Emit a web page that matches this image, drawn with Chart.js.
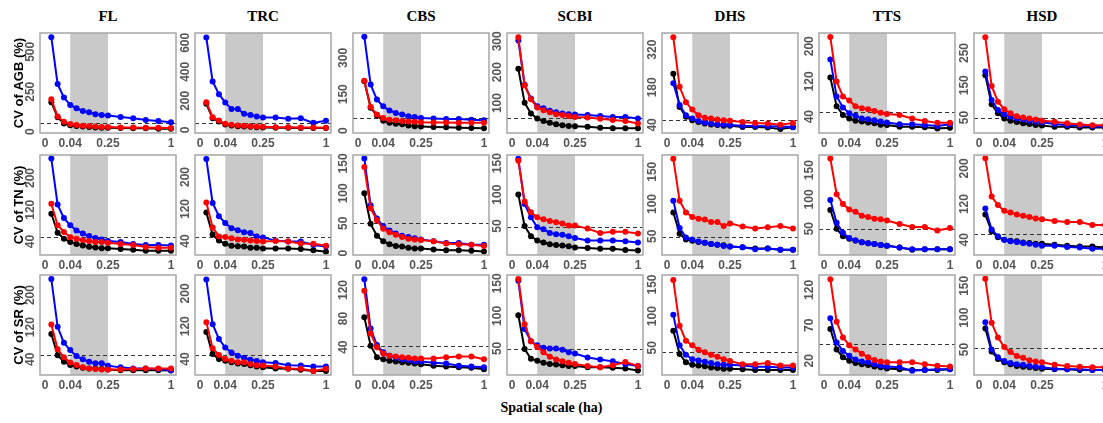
<!DOCTYPE html>
<html>
<head>
<meta charset="utf-8">
<script src="https://cdn.jsdelivr.net/npm/chart.js@4.4.1/dist/chart.umd.min.js"></script>
<style>
  html, body { margin: 0; padding: 0; background: #fff; overflow: hidden; }
  #wrap { position: relative; width: 1103px; height: 423px; overflow: hidden; }
  #wrap canvas { position: absolute; }
  .site { position: absolute; top: 8px; width: 136px; text-align: center;
          font: bold 15px "Liberation Serif", "Times New Roman", serif; color: #000; }
  #xlab { position: absolute; left: 0; width: 1103px; top: 400px; text-align: center;
          font: bold 14px "Liberation Serif", "Times New Roman", serif; color: #000; }
</style>
</head>
<body>
<div id="wrap"><div id="xlab">Spatial scale (ha)</div></div>
<script>
// plot sizes (ha); x axis is drawn on the square root of the area
const scaleHa = [0.0025, 0.01, 0.0225, 0.04, 0.0625, 0.09, 0.1225, 0.16, 0.2025, 0.25, 0.36, 0.49, 0.64, 0.81, 1];
const xTickHa = [0, 0.04, 0.25, 1];
const shadeHa = [0.04, 0.25];

const sites = ['FL', 'TRC', 'CBS', 'SCBI', 'DHS', 'TTS', 'HSD'];
const rowTitles = ['CV of AGB (%)', 'CV of TN (%)', 'CV of SR (%)'];

// CV of AGB
const agbBlack = [
  [185, 90, 52, 40, 36, 32, 29, 27, 25, 25, 23, 21, 21, 19, 19],
  [179, 80, 58, 37, 30, 25, 23, 21, 18, 16, 14, 14, 12, 12, 12],
  [204, 94, 62, 41, 32, 28, 26, 21, 18, 17, 15, 14, 12, 11, 10],
  [211, 101, 66, 50, 42, 36, 31, 28, 26, 25, 23, 20, 18, 18, 18],
  [230, 107, 70, 57, 51, 45, 42, 40, 37, 37, 32, 32, 30, 25, 31],
  [129, 64, 44, 36, 31, 29, 27, 25, 22, 21, 17, 17, 16, 13, 15],
  [181, 91, 63, 47, 40, 36, 32, 30, 27, 25, 21, 21, 19, 19, 19]
];
const agbBlue = [
  [592, 298, 214, 168, 147, 130, 122, 109, 105, 101, 92, 84, 74, 67, 59],
  [637, 333, 246, 189, 143, 143, 110, 103, 92, 85, 85, 76, 80, 48, 62],
  [388, 190, 128, 100, 83, 73, 66, 59, 56, 52, 50, 48, 48, 45, 43],
  [303, 159, 115, 90, 83, 75, 70, 66, 64, 63, 61, 58, 55, 55, 50],
  [195, 114, 76, 64, 55, 49, 45, 42, 41, 40, 37, 36, 35, 34, 32],
  [170, 86, 61, 48, 42, 36, 34, 32, 29, 27, 23, 23, 21, 19, 23],
  [193, 104, 73, 60, 52, 47, 44, 40, 37, 35, 30, 26, 25, 23, 21]
];
const agbRed = [
  [204, 95, 63, 48, 42, 38, 36, 32, 29, 29, 27, 27, 25, 25, 23],
  [191, 87, 64, 41, 35, 30, 28, 25, 23, 21, 18, 18, 16, 16, 14],
  [206, 98, 66, 52, 45, 43, 40, 37, 36, 34, 33, 33, 32, 32, 32],
  [313, 157, 112, 86, 77, 70, 64, 61, 58, 55, 53, 49, 45, 42, 34],
  [366, 182, 124, 97, 76, 67, 64, 60, 57, 56, 51, 47, 45, 41, 47],
  [221, 120, 86, 77, 64, 59, 57, 53, 49, 46, 44, 36, 30, 26, 26],
  [299, 148, 99, 76, 63, 54, 50, 47, 44, 40, 37, 32, 28, 26, 26]
];
const agbTicks = [[0, 250, 500], [0, 200, 400, 600], [0, 150, 300], [100, 200, 300], [40, 180, 320], [40, 120, 200], [50, 150, 250]];
const agbLim = [[-8, 618], [-22, 668], [-10, 403], [3, 327], [10, 382], [3, 230], [2, 312]];
const agbCut = [52, 48, 51, 50, 57, 51, 49];

// CV of TN
const tnBlack = [
  [110, 62, 47, 39, 34, 30, 27, 25, 23, 23, 21, 19, 17, 17, 17],
  [111, 56, 41, 33, 28, 27, 26, 23, 23, 21, 21, 21, 20, 17, 13],
  [100, 49, 29, 20, 15, 12, 11, 9, 8, 8, 6, 5, 5, 4, 3],
  [100, 50, 34, 27, 24, 21, 20, 19, 18, 16, 15, 14, 14, 12, 11],
  [87, 54, 45, 43, 41, 40, 38, 37, 36, 34, 33, 31, 31, 29, 29],
  [82, 50, 37, 33, 30, 27, 25, 24, 22, 21, 18, 14, 15, 15, 15],
  [97, 59, 46, 40, 38, 37, 34, 33, 31, 31, 29, 27, 25, 25, 23]
];
const tnBlue = [
  [249, 133, 99, 81, 68, 60, 54, 49, 45, 41, 39, 34, 31, 31, 30],
  [245, 135, 102, 85, 72, 67, 62, 60, 51, 49, 41, 39, 39, 30, 26],
  [158, 80, 58, 45, 38, 33, 29, 27, 25, 23, 20, 17, 17, 14, 14],
  [157, 85, 64, 48, 45, 39, 37, 36, 34, 31, 27, 27, 27, 26, 24],
  [105, 63, 48, 45, 42, 40, 38, 37, 35, 34, 33, 30, 31, 29, 29],
  [99, 60, 43, 34, 30, 27, 25, 24, 22, 21, 18, 15, 15, 15, 15],
  [110, 63, 48, 40, 37, 35, 33, 31, 29, 27, 27, 24, 23, 20, 20]
];
const tnRed = [
  [135, 81, 64, 51, 47, 43, 41, 39, 39, 37, 34, 31, 26, 24, 24],
  [136, 74, 51, 50, 47, 44, 43, 41, 40, 39, 40, 39, 34, 33, 28],
  [144, 75, 55, 41, 35, 31, 27, 24, 23, 22, 20, 16, 15, 14, 12],
  [154, 89, 72, 64, 61, 58, 56, 54, 51, 51, 46, 39, 41, 41, 38],
  [170, 105, 87, 80, 77, 76, 72, 72, 66, 70, 65, 62, 64, 66, 62],
  [170, 109, 92, 83, 79, 72, 70, 67, 66, 64, 58, 53, 53, 47, 51],
  [223, 137, 118, 105, 101, 97, 94, 91, 88, 86, 82, 80, 80, 73, 73]
];
const tnTicks = [[40, 120, 200], [40, 120, 200], [0, 50, 100, 150], [50, 100, 150], [50, 100, 150], [50, 100, 150], [40, 120, 200]];
const tnLim = [[6, 258], [5, 255], [-3, 164], [4, 163], [21, 176], [5, 176], [6, 230]];
const tnCut = [51, 49, 50, 48, 49, 50, 52];

// CV of SR
const srBlack = [
  [103, 50, 34, 26, 22, 19, 17, 17, 16, 15, 13, 13, 13, 13, 12],
  [106, 52, 40, 36, 32, 29, 28, 25, 22, 20, 17, 16, 14, 11, 11],
  [82, 42, 26, 23, 21, 20, 19, 18, 17, 16, 14, 13, 12, 11, 9],
  [101, 49, 34, 31, 28, 26, 25, 24, 23, 23, 21, 21, 20, 19, 16],
  [77, 40, 27, 23, 22, 21, 19, 18, 17, 17, 16, 15, 15, 15, 15],
  [65, 36, 25, 20, 17, 15, 14, 12, 11, 9, 8, 7, 7, 7, 8],
  [83, 47, 35, 30, 27, 24, 23, 22, 21, 20, 19, 19, 18, 18, 18]
];
const srBlue = [
  [240, 121, 81, 63, 48, 40, 34, 30, 30, 24, 20, 17, 17, 16, 13],
  [234, 125, 89, 68, 56, 48, 43, 38, 35, 32, 30, 25, 24, 22, 22],
  [135, 66, 43, 33, 28, 25, 23, 22, 20, 20, 18, 17, 14, 13, 12],
  [154, 80, 61, 55, 51, 50, 50, 48, 44, 42, 36, 33, 30, 26, 23],
  [102, 54, 39, 32, 30, 28, 26, 24, 23, 23, 22, 20, 20, 19, 19],
  [80, 46, 34, 27, 22, 19, 18, 15, 13, 12, 11, 6, 7, 8, 8],
  [93, 50, 38, 32, 29, 27, 26, 24, 23, 22, 20, 19, 19, 18, 18]
];
const srRed = [
  [127, 65, 45, 32, 26, 20, 17, 16, 15, 15, 15, 16, 17, 17, 17],
  [130, 66, 50, 40, 36, 32, 32, 28, 25, 24, 22, 17, 16, 11, 16],
  [119, 59, 40, 31, 28, 27, 26, 25, 24, 24, 24, 26, 27, 27, 23],
  [157, 87, 61, 52, 44, 37, 33, 30, 28, 26, 23, 21, 24, 29, 23],
  [157, 85, 61, 54, 47, 43, 39, 36, 32, 29, 24, 24, 26, 22, 22],
  [135, 75, 53, 42, 36, 30, 25, 21, 19, 18, 18, 18, 15, 13, 12],
  [161, 92, 69, 54, 46, 40, 37, 33, 31, 30, 26, 24, 23, 22, 22]
];
const srTicks = [[40, 120, 200], [40, 120, 200], [40, 80, 120], [50, 100, 150], [50, 100, 150], [20, 70, 120], [50, 100, 150]];
const srLim = [[1, 250], [1, 245], [1, 141], [9, 163], [7, 165], [0, 141], [10, 167]];
const srCut = [50, 50, 42, 49, 44, 44, 52];

// layout of the panel boxes (px)
const boxLeft = [40, 195, 353, 507, 662, 819, 974];
const boxTop = [33, 155, 275];
const boxW = 136, boxH = 100;

const rows = [
  { black: agbBlack, blue: agbBlue, red: agbRed, ticks: agbTicks, lim: agbLim, cut: agbCut },
  { black: tnBlack, blue: tnBlue, red: tnRed, ticks: tnTicks, lim: tnLim, cut: tnCut },
  { black: srBlack, blue: srBlue, red: srRed, ticks: srTicks, lim: srLim, cut: srCut }
];

const tickFont = { family: '"Liberation Sans", Arial, sans-serif', weight: 'bold', size: 12 };
const measure = document.createElement('canvas').getContext('2d');
measure.font = 'bold 12px "Liberation Sans", Arial, sans-serif';

const panelDeco = {
  id: 'panelDeco',
  beforeDatasetsDraw(chart, args, opts) {
    const { ctx, chartArea: a, scales: { x, y } } = chart;
    ctx.save();
    const x0 = x.getPixelForValue(Math.sqrt(shadeHa[0]));
    const x1 = x.getPixelForValue(Math.sqrt(shadeHa[1]));
    ctx.fillStyle = '#c9c9c9';
    ctx.fillRect(x0, a.top, x1 - x0, a.bottom - a.top);
    const yc = Math.round(y.getPixelForValue(opts.cut)) + 0.5;
    ctx.setLineDash([4, 3]);
    ctx.strokeStyle = '#333';
    ctx.lineWidth = 1.2;
    ctx.beginPath();
    ctx.moveTo(a.left, yc);
    ctx.lineTo(a.right, yc);
    ctx.stroke();
    ctx.restore();
  },
  afterDraw(chart) {
    const { ctx, chartArea: a } = chart;
    ctx.save();
    ctx.strokeStyle = '#a6a6a6';
    ctx.lineWidth = 1.5;
    ctx.strokeRect(a.left, a.top, a.right - a.left, a.bottom - a.top);
    ctx.restore();
  }
};

function series(vals, color) {
  return {
    label: color,
    data: vals.map((v, i) => ({ x: Math.sqrt(scaleHa[i]), y: v })),
    borderColor: color,
    backgroundColor: color,
    borderWidth: 2,
    pointRadius: 3,
    pointBorderWidth: 0,
    pointBackgroundColor: color,
    tension: 0,
    clip: false
  };
}

const wrap = document.getElementById('wrap');
sites.forEach((s, c) => {
  const d = document.createElement('div');
  d.className = 'site';
  d.style.left = boxLeft[c] + 'px';
  d.textContent = s;
  wrap.appendChild(d);
});

const padT = 12, padR = 14, xH = 22;
rows.forEach((row, r) => {
  sites.forEach((site, c) => {
    const yW = c === 0 ? 40 : 30;
    const w = yW + boxW + padR, h = padT + boxH + xH;
    const cv = document.createElement('canvas');
    cv.width = w; cv.height = h;
    cv.style.width = w + 'px'; cv.style.height = h + 'px';
    cv.style.left = (boxLeft[c] - yW) + 'px';
    cv.style.top = (boxTop[r] - padT) + 'px';
    wrap.appendChild(cv);

    const yt = row.ticks[c];
    const widest = Math.max(...yt.map(v => measure.measureText(String(v)).width));

    new Chart(cv, {
      type: 'line',
      data: {
        datasets: [series(row.red[c], '#ff0000'), series(row.blue[c], '#0000ff'), series(row.black[c], '#000000')]
      },
      options: {
        animation: false,
        responsive: false,
        events: [],
        layout: { padding: { top: padT, right: padR, left: 0, bottom: 0 } },
        plugins: {
          legend: { display: false },
          tooltip: { enabled: false },
          panelDeco: { cut: row.cut[c] }
        },
        scales: {
          x: {
            type: 'linear',
            min: -0.04,
            max: 1.04,
            grid: { display: false, drawTicks: false },
            border: { display: false },
            afterBuildTicks: sc => { sc.ticks = xTickHa.map(a => ({ value: Math.sqrt(a) })); },
            afterFit: sc => { sc.height = xH; },
            ticks: {
              autoSkip: false,
              maxRotation: 0,
              padding: 3,
              color: '#555',
              font: tickFont,
              callback: v => String(+(v * v).toFixed(4))
            }
          },
          y: {
            type: 'linear',
            min: row.lim[c][0],
            max: row.lim[c][1],
            grid: { display: false, drawTicks: false },
            border: { display: false },
            afterBuildTicks: sc => { sc.ticks = yt.map(v => ({ value: v })); },
            afterFit: sc => { sc.width = yW; },
            ticks: {
              minRotation: 90,
              maxRotation: 90,
              crossAlign: 'center',
              padding: 9 - widest / 2,
              color: '#555',
              font: tickFont
            },
            title: {
              display: c === 0,
              text: rowTitles[r],
              color: '#000',
              font: { family: '"Liberation Sans", Arial, sans-serif', weight: 'bold', size: 13 },
              padding: { top: 12, bottom: 0 }
            }
          }
        }
      },
      plugins: [panelDeco]
    });
  });
});
</script>
</body>
</html>
